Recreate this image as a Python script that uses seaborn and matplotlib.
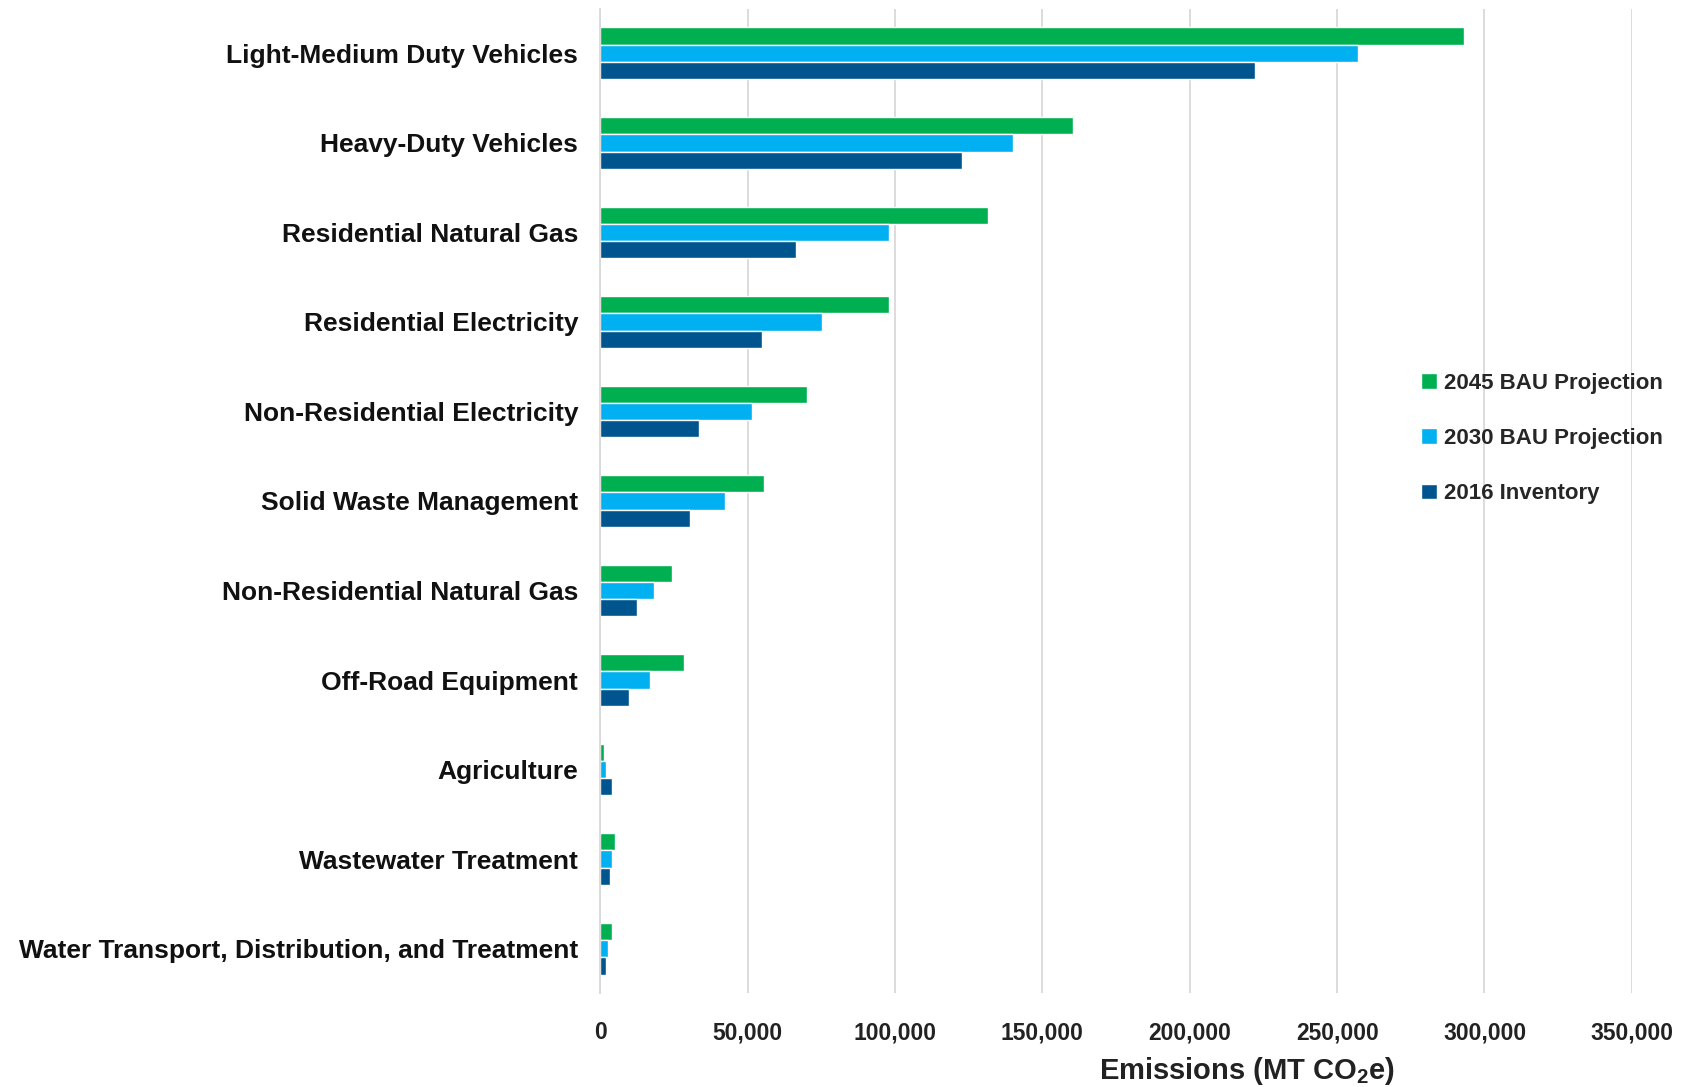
import matplotlib
matplotlib.use("Agg")
import matplotlib.pyplot as plt
import matplotlib.ticker as mticker
import seaborn as sns
import pandas as pd

# Emission sources (MT CO2e) by scenario
categories = [
    "Light-Medium Duty Vehicles",
    "Heavy-Duty Vehicles",
    "Residential Natural Gas",
    "Residential Electricity",
    "Non-Residential Electricity",
    "Solid Waste Management",
    "Non-Residential Natural Gas",
    "Off-Road Equipment",
    "Agriculture",
    "Wastewater Treatment",
    "Water Transport, Distribution, and Treatment",
]
bau_2045 = [293000, 160500, 131500, 98000, 70000, 55500, 24300, 28500, 1100, 5000, 3900]
bau_2030 = [257000, 140000, 98000, 75200, 51500, 42300, 18100, 16700, 1900, 3900, 2500]
inv_2016 = [222000, 122600, 66400, 54700, 33600, 30300, 12500, 9900, 3900, 3200, 1900]

series = ["2045 BAU Projection", "2030 BAU Projection", "2016 Inventory"]
colors = ["#00B050", "#00B0F0", "#00558F"]

df = pd.DataFrame({
    "Source": categories * 3,
    "Scenario": [series[0]] * 11 + [series[1]] * 11 + [series[2]] * 11,
    "Emissions": bau_2045 + bau_2030 + inv_2016,
})

sns.set_theme(style="white")
plt.rcParams["font.family"] = ["Liberation Sans", "DejaVu Sans"]
plt.rcParams["mathtext.fontset"] = "custom"
plt.rcParams["mathtext.rm"] = "Liberation Sans:bold"
plt.rcParams["mathtext.bf"] = "Liberation Sans:bold"

fig = plt.figure(figsize=(16.9, 10.87), dpi=100)
ax = fig.add_axes([0.3552, 0.0862, 0.6104, 0.9058])

sns.barplot(data=df, y="Source", x="Emissions", hue="Scenario",
            order=categories, hue_order=series, palette=colors,
            width=0.58, orient="h", ax=ax, saturation=1, errorbar=None)

ax.set_xlim(0, 350000)
ax.xaxis.set_major_locator(mticker.MultipleLocator(50000))
ax.xaxis.set_major_formatter(mticker.FuncFormatter(lambda v, p: f"{int(v):,}"))
ax.grid(axis="x", color="#D9D9D9", linewidth=1.3)
ax.set_axisbelow(True)
for s in ["top", "right", "bottom"]:
    ax.spines[s].set_visible(False)
ax.spines["left"].set_color("#D9D9D9")
ax.spines["left"].set_linewidth(1.3)
ax.tick_params(axis="both", length=0)
ax.tick_params(axis="y", pad=16)
ax.tick_params(axis="x", pad=20)

for lbl in ax.get_yticklabels():
    lbl.set_fontsize(19)
    lbl.set_fontweight("bold")
    lbl.set_color("#111111")
for lbl in ax.get_xticklabels():
    lbl.set_fontsize(16.5)
    lbl.set_fontweight("bold")
    lbl.set_color("#222222")

ax.set_ylabel("")
ax.set_xlabel(r"Emissions (MT CO$_\mathbf{2}$e)", fontsize=21, fontweight="bold",
              color="#222222")
ax.xaxis.set_label_coords(0.627, -0.063)

ax.legend(loc="center left", bbox_to_anchor=(0.787, 0.5635), frameon=False,
          prop={"weight": "bold", "size": 16},
          handlelength=0.7, handleheight=0.7, handletextpad=0.35,
          labelspacing=1.55, borderaxespad=0)

fig.savefig("out.png", dpi=100)
